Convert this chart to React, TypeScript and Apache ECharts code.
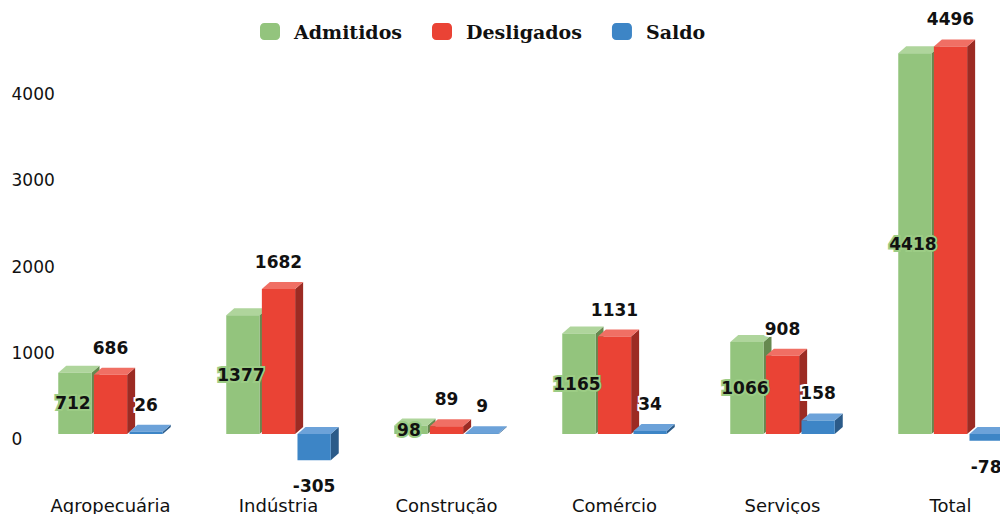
import React, { useEffect, useRef } from 'react';
import * as echarts from 'echarts';

const categories = ['Agropecuária', 'Indústria', 'Construção', 'Comércio', 'Serviços', 'Total'];
const admitidos = [712, 1377, 98, 1165, 1066, 4418];
const desligados = [686, 1682, 89, 1131, 908, 4496];
const saldo = [26, -305, 9, 34, 158, -78];
const seriesNames = ['Admitidos', 'Desligados', 'Saldo'];

const palette = [
  { front: '#93c47d', top: '#afd59c', side: '#66894f' },
  { front: '#ea4335', top: '#f06f64', side: '#9c2b23' },
  { front: '#3d85c6', top: '#6ca2d9', side: '#2b5b89' },
];

const DX = 8;
const DY = 7;

function makeRender(slot: number) {
  return (params: any, api: any) => {
    const idx = api.value(0);
    const val = api.value(1);
    const p0 = api.coord([idx, 0]);
    const p1 = api.coord([idx, val]);
    const band = api.size([1, 0])[0];
    const barW = band * 0.198;
    const stride = band * 0.212;
    const cx = p0[0] + (slot - 1) * stride;
    const x0 = cx - barW / 2;
    const x1 = cx + barW / 2;
    const yT = Math.min(p0[1], p1[1]);
    const yB = Math.max(p0[1], p1[1]);
    const c = palette[slot];
    const children: any[] = [
      { type: 'polygon', shape: { points: [[x1, yT], [x1 + DX, yT - DY], [x1 + DX, yB - DY], [x1, yB]] }, style: { fill: c.side } },
      { type: 'polygon', shape: { points: [[x0, yT], [x0 + DX, yT - DY], [x1 + DX, yT - DY], [x1, yT]] }, style: { fill: c.top } },
      { type: 'rect', shape: { x: x0, y: yT, width: barW, height: yB - yT }, style: { fill: c.front } },
    ];
    let tx: number, ty: number, border: string;
    if (slot === 0) {
      tx = cx - 2; ty = (yT + yB) / 2; border = '#9ccc85';
    } else if (val >= 0) {
      tx = cx; ty = yT - 27; border = '#ffffff';
    } else {
      tx = cx; ty = yB + 26; border = '#ffffff';
    }
    children.push({
      type: 'text',
      z2: 100,
      style: {
        text: String(val), x: tx, y: ty, align: 'center', verticalAlign: 'middle',
        fill: '#111111', fontSize: 17, fontWeight: 'bold', fontFamily: 'DejaVu Sans',
        stroke: border, lineWidth: 4,
      },
    });
    return { type: 'group', children };
  };
}

export default function App() {
  const ref = useRef<HTMLDivElement>(null);
  useEffect(() => {
    const chart = echarts.init(ref.current!, undefined, { renderer: 'svg' });
    const all = [admitidos, desligados, saldo];
    chart.setOption({
      animation: false,
      backgroundColor: '#ffffff',
      legend: {
        top: 22, left: 260, padding: 0, itemWidth: 20, itemHeight: 17, itemGap: 30, icon: 'roundRect',
        textStyle: { fontFamily: 'DejaVu Serif', fontWeight: 'bold', fontSize: 19, color: '#111111', padding: [0, 0, 0, 9] },
        data: seriesNames,
      },
      grid: { left: 26.5, width: 1008, top: 3, bottom: 80, outerBoundsMode: 'none', containLabel: false },
      xAxis: {
        type: 'category', data: categories,
        axisLine: { show: false }, axisTick: { show: false },
        axisLabel: { fontFamily: 'DejaVu Sans', fontSize: 18, color: '#111111', margin: 62, verticalAlign: 'top' },
      },
      yAxis: {
        type: 'value', min: 0, max: 5000, interval: 1000,
        splitLine: { show: false }, axisLine: { show: false }, axisTick: { show: false },
        axisLabel: {
          showMaxLabel: false, align: 'left', margin: 15, fontFamily: 'DejaVu Sans', fontSize: 17, color: '#111111',
          verticalAlign: 'top', lineHeight: 10, formatter: (v: number) => String(v),
        },
      },
      series: all.map((arr, s) => ({
        type: 'custom',
        name: seriesNames[s],
        itemStyle: { color: palette[s].front },
        encode: { x: 0, y: 1 },
        clip: false,
        renderItem: makeRender(s),
        data: arr.map((v, i) => [i, v]),
      })),
    });
    return () => chart.dispose();
  }, []);
  return <div ref={ref} style={{ position: 'absolute', left: 0, top: 0, width: 1000, height: 514 }} />;
}
